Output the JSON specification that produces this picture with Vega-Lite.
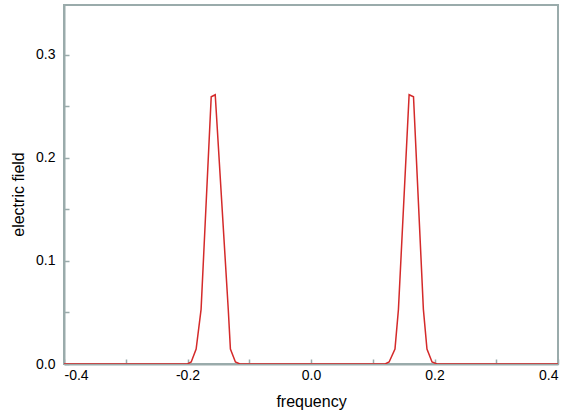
{
  "$schema": "https://vega.github.io/schema/vega-lite/v6.json",
  "autosize": {"type": "none"},
  "padding": {"left": 64, "top": 5, "right": 9, "bottom": 53},
  "width": 494,
  "height": 359,
  "background": "white",
  "config": {
    "view": {"stroke": "#9aabab", "strokeWidth": 2},
    "axis": {
      "domainColor": "#9aabab",
      "domainWidth": 2,
      "tickColor": "#9aabab",
      "tickWidth": 1.5,
      "tickSize": -5,
      "grid": false,
      "labelFont": "Liberation Sans Narrow, Liberation Sans",
      "labelFontSize": 14,
      "labelColor": "#000000",
      "titleFont": "Liberation Sans",
      "titleFontSize": 16,
      "titleFontWeight": "normal",
      "titleColor": "#000000"
    }
  },
  "data": {
    "values": [
      {"f": -0.4, "e": 0},
      {"f": -0.2, "e": 0},
      {"f": -0.194, "e": 0.002},
      {"f": -0.186, "e": 0.0145},
      {"f": -0.178, "e": 0.053},
      {"f": -0.1616, "e": 0.259},
      {"f": -0.1551, "e": 0.261},
      {"f": -0.134, "e": 0.053},
      {"f": -0.1305, "e": 0.0145},
      {"f": -0.1224, "e": 0.002},
      {"f": -0.115, "e": 0},
      {"f": 0.12, "e": 0},
      {"f": 0.1265, "e": 0.002},
      {"f": 0.136, "e": 0.0145},
      {"f": 0.1416, "e": 0.053},
      {"f": 0.1589, "e": 0.261},
      {"f": 0.166, "e": 0.259},
      {"f": 0.182, "e": 0.053},
      {"f": 0.1878, "e": 0.0145},
      {"f": 0.196, "e": 0.002},
      {"f": 0.204, "e": 0},
      {"f": 0.4, "e": 0}
    ]
  },
  "mark": {"type": "line", "color": "#d42a2a", "strokeWidth": 1.5, "clip": true},
  "encoding": {
    "x": {
      "field": "f",
      "type": "quantitative",
      "scale": {"domain": [-0.4, 0.4], "nice": false, "zero": false},
      "axis": {
        "title": "frequency",
        "values": [-0.4, -0.3, -0.2, -0.1, 0, 0.1, 0.2, 0.3, 0.4],
        "labelExpr": "round(datum.value*10) % 2 == 0 ? replace(format(datum.value, '.1f'), '\u2212', '-') : ''",
        "labelPadding": 9,
        "titleBaseline": "top",
        "titleY": 29
      }
    },
    "y": {
      "field": "e",
      "type": "quantitative",
      "scale": {"domain": [0, 0.348], "nice": false},
      "axis": {
        "title": "electric field",
        "values": [0, 0.05, 0.1, 0.15, 0.2, 0.25, 0.3],
        "labelExpr": "round(datum.value*20) % 2 == 0 ? format(datum.value, '.1f') : ''",
        "labelPadding": 14,
        "titleAngle": -90,
        "titleAlign": "center",
        "titleBaseline": "middle",
        "titleX": -46,
        "titleY": 189
      }
    }
  }
}
